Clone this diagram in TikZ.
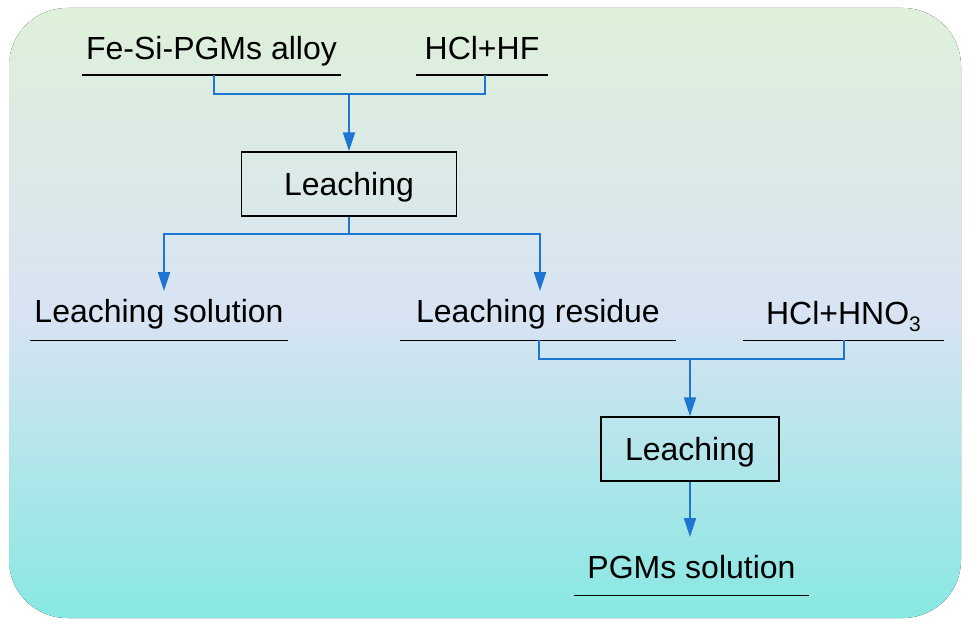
\documentclass[tikz,border=0pt]{standalone}
\usepackage{fontspec}
\setmainfont{Liberation Sans}
\usetikzlibrary{arrows.meta,calc}
\definecolor{bl}{RGB}{30,118,210}
\definecolor{bgtop}{RGB}{223,240,218}
\definecolor{bgmid}{RGB}{216,227,243}
\definecolor{bgbot}{RGB}{136,232,226}
\tikzset{
  ulab/.style={inner xsep=0pt, inner ysep=0pt, text height=23pt, text depth=#1, anchor=base,
    append after command={(\tikzlastnode.south west) edge[draw=black,line width=1.4pt] (\tikzlastnode.south east)}},
  procbox/.style={draw=black, line width=1.3pt, inner sep=0pt, text height=23pt, text depth=0pt},
  conn/.style={draw=bl, line width=1.8pt},
  arr/.style={conn, -{Triangle[length=19pt,width=12pt]}},
}
\begin{document}
\begin{tikzpicture}[x=1pt,y=-1pt,font=\fontsize{32}{38}\selectfont]
\useasboundingbox (0,0) rectangle (970,626);
\fill[rounded corners=58pt, top color=bgtop, bottom color=bgbot, middle color=bgmid] (9,8) rectangle (961,618);

% labels with underlines
\node[ulab=15pt, minimum width=259pt] (fe) at (211.5,60) {Fe-Si-PGMs alloy};
\node[ulab=15pt, minimum width=132pt] (hf) at (482,60) {HCl+HF};
\node[ulab=18pt, minimum width=258pt] (sol) at (159,322) {Leaching solution};
\node[ulab=18pt, minimum width=276pt] (res) at (538,322) {Leaching residue};
\node[ulab=16pt, minimum width=201pt] (hno) at (843.5,324) {HCl+HNO\raisebox{-7pt}{\fontsize{21}{21}\selectfont 3}};
\node[ulab=17pt, minimum width=235pt] (pgm) at (691.5,578) {PGMs solution};

% process boxes
\node[procbox, minimum width=215pt, minimum height=64pt] (box1) at (349,184) {Leaching};
\node[procbox, minimum width=178pt, minimum height=64pt] (box2) at (690,449) {Leaching};

% junctions and arrow tips
\coordinate (j1) at (349,94);
\coordinate (j2) at (349,234);
\coordinate (j3) at (690,359);
\coordinate (t1) at (164,291);
\coordinate (t2) at (540,291);
\coordinate (t3) at (690,537);

% connectors
\draw[conn] ([xshift=2.5pt]fe.south) |- (j1) -| ([xshift=3pt]hf.south);
\draw[arr] (j1) -- (box1.north);
\draw[conn] (box1.south) -- (j2);
\draw[arr] (j2) -| (t1);
\draw[arr] (j2) -| (t2);
\draw[conn] ([xshift=1pt]res.south) |- (j3) -| ([xshift=0.5pt]hno.south);
\draw[arr] (j3) -- (box2.north);
\draw[arr] (box2.south) -- (t3);
\end{tikzpicture}
\end{document}
